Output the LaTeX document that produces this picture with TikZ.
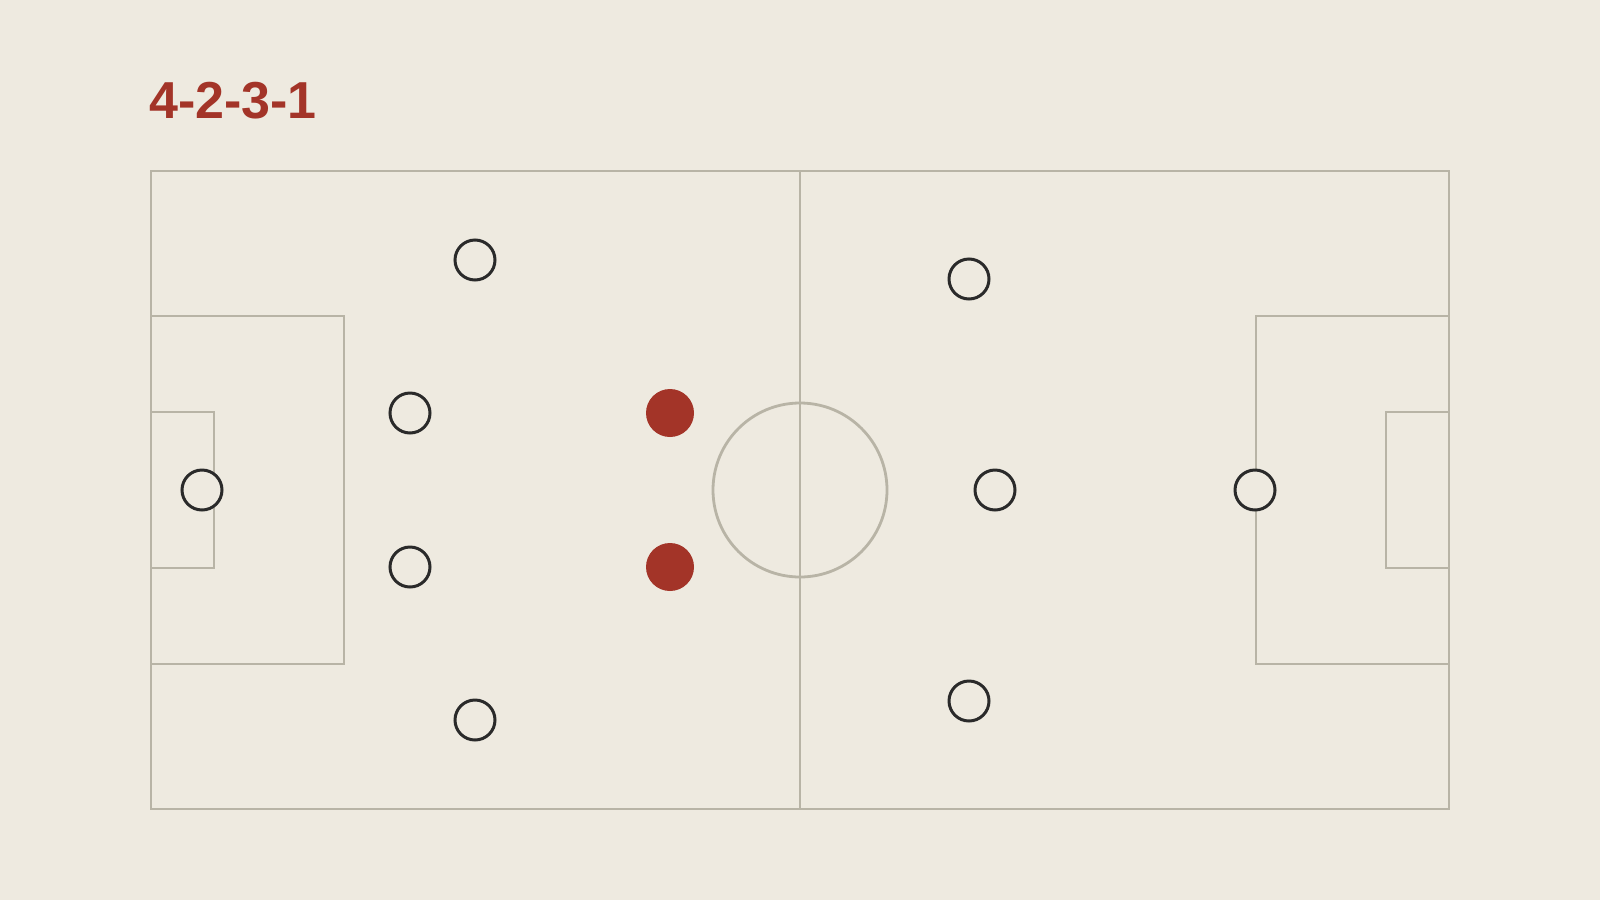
\documentclass[tikz,border=0pt]{standalone}
\usepackage{fontspec}
\setmainfont{Liberation Sans}
\definecolor{paper}{HTML}{EEEAE0}
\definecolor{chalk}{HTML}{B8B4A6}
\definecolor{shirt}{HTML}{2A2A2A}
\definecolor{focus}{HTML}{A33428}
\begin{document}
\begin{tikzpicture}[
    x=1pt, y=-1pt,
    line/.style={draw=chalk, line width=2.8pt},
    player/.style={circle, draw=shirt, fill=paper, line width=3pt, minimum size=40pt, inner sep=0pt},
    pivot/.style={circle, fill=focus, minimum size=48pt, inner sep=0pt}
]
% Fond
\fill[paper] (0,0) rectangle (1600,900);
\useasboundingbox (0,0) rectangle (1600,900);

% Titre
\node[anchor=base west, inner sep=0pt, text=focus, font=\fontsize{52}{56}\selectfont\bfseries] (titre) at (149,118.5) {4-2-3-1};

% Terrain
\draw[line] (151,171) rectangle (1449,809);
\draw[line] (800,171) -- (800,809);
\draw[line] (800,490) circle (87);
\draw[line] (151,316) -- (344,316) -- (344,664) -- (151,664);
\draw[line] (151,412) -- (214,412) -- (214,568) -- (151,568);
\draw[line] (1449,316) -- (1256,316) -- (1256,664) -- (1449,664);
\draw[line] (1449,412) -- (1386,412) -- (1386,568) -- (1449,568);

% Gardien et défense
\node[player] (gk) at (202,490) {};
\foreach \n/\x/\y in {1/475/260, 2/410/413, 3/410/567, 4/475/720} {
    \node[player] (d\n) at (\x,\y) {};
}

% Double pivot
\node[pivot] (m1) at (670,413) {};
\node[pivot] (m2) at (670,567) {};

% Milieux offensifs
\foreach \n/\x/\y in {1/969/279, 2/995/490, 3/969/701} {
    \node[player] (a\n) at (\x,\y) {};
}

% Attaquant
\node[player] (st) at (1255,490) {};

\end{tikzpicture}
\end{document}
